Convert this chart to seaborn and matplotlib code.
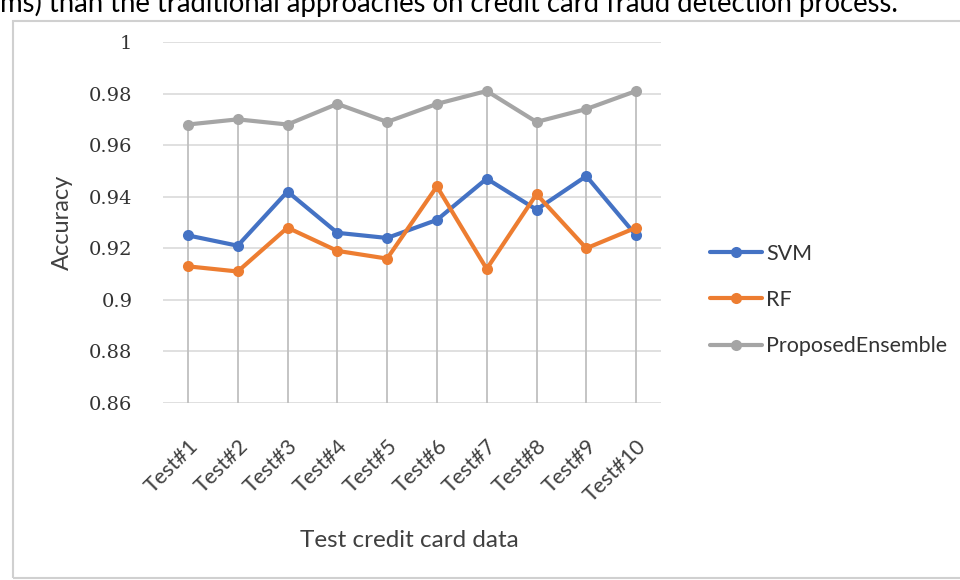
import matplotlib
matplotlib.use("Agg")
import matplotlib.pyplot as plt
import matplotlib.patches as mpatches
import matplotlib.transforms as mtransforms
import numpy as np
import pandas as pd
import seaborn as sns

# Accuracy per test set
tests = ["Test#1", "Test#2", "Test#3", "Test#4", "Test#5",
         "Test#6", "Test#7", "Test#8", "Test#9", "Test#10"]
svm = [0.925, 0.921, 0.942, 0.926, 0.924, 0.931, 0.947, 0.935, 0.948, 0.925]
rf = [0.913, 0.911, 0.928, 0.919, 0.916, 0.944, 0.912, 0.941, 0.920, 0.928]
ensemble = [0.968, 0.970, 0.968, 0.976, 0.969, 0.976, 0.981, 0.969, 0.974, 0.981]

models = ["SVM", "RF", "ProposedEnsemble"]
colors = ["#4472C4", "#ED7D31", "#A5A5A5"]
yticks = [0.86, 0.88, 0.90, 0.92, 0.94, 0.96, 0.98, 1.00]
ytick_labels = ["0.86", "0.88", "0.9", "0.92", "0.94", "0.96", "0.98", "1"]

df = pd.DataFrame({"test": tests, "SVM": svm, "RF": rf, "ProposedEnsemble": ensemble})
df["pos"] = np.arange(len(tests))
long = df.melt(id_vars=["test", "pos"], value_vars=models,
               var_name="model", value_name="acc")

sns.set_theme(style="white")
plt.rcParams["font.family"] = ["Lato", "DejaVu Sans"]

fig = plt.figure(figsize=(9.6, 5.8), dpi=100)
ax = fig.add_axes([163 / 960, 1 - 403 / 580, 498 / 960, 361 / 580])

# frame around the chart area
fig.patches.append(mpatches.Rectangle((13 / 960, 2 / 580), 1.0, 557 / 580,
                                      transform=fig.transFigure, fill=False,
                                      edgecolor="#d0d0d0", linewidth=1.5))

# sentence from the surrounding text, cut at the top edge
fig.text(0.0, 1 - 12 / 580,
         "ms) than the traditional approaches on credit card fraud detection process.",
         fontsize=19.8, color="black", ha="left", va="baseline")

# drop lines from the top series down to the axis floor
ax.vlines(df["pos"], yticks[0], df["ProposedEnsemble"], color="#bfbfbf",
          linewidth=1.3, zorder=1)

sns.lineplot(data=long, x="pos", y="acc", hue="model", hue_order=models,
             palette=colors, marker="o", markersize=8, markeredgewidth=0,
             linewidth=3, sort=False, ax=ax, zorder=3)

ax.set_xlim(-0.5, len(tests) - 0.5)
ax.set_ylim(yticks[0], yticks[-1])
ax.set_yticks(yticks)
ax.set_yticklabels(ytick_labels, family=["DejaVu Serif"],
                   fontsize=14, color="#333333")
ax.set_xticks(df["pos"])
ax.set_xticklabels(tests, rotation=45, ha="right", va="center",
                   rotation_mode="anchor", fontsize=15.5, color="#404040")
ax.tick_params(axis="y", length=0, pad=22)
ax.tick_params(axis="x", length=0, pad=29)
shift = mtransforms.ScaledTranslation(7 / 100, 0, fig.dpi_scale_trans)
for lbl in ax.get_xticklabels():
    lbl.set_transform(lbl.get_transform() + shift)

ax.yaxis.grid(True, color="#dddddd", linewidth=1.3)
ax.xaxis.grid(False)
for s in ax.spines.values():
    s.set_visible(False)

ax.set_xlabel("Test credit card data", fontsize=17.5, color="#404040")
ax.xaxis.set_label_coords(0.495, (403 - 530) / 361)
ax.set_ylabel("Accuracy", fontsize=17, color="#404040")
ax.yaxis.set_label_coords((73 - 163) / 498, 0.5)

ax.legend(loc="center left", bbox_to_anchor=(693 / 960, 1 - 300 / 580),
          bbox_transform=fig.transFigure, frameon=False, fontsize=15.5,
          handlelength=2.4, handletextpad=0.2, labelspacing=1.22,
          borderpad=0.3)
for t in ax.get_legend().get_texts():
    t.set_color("#333333")

fig.savefig("out.png", dpi=100, facecolor="white")
